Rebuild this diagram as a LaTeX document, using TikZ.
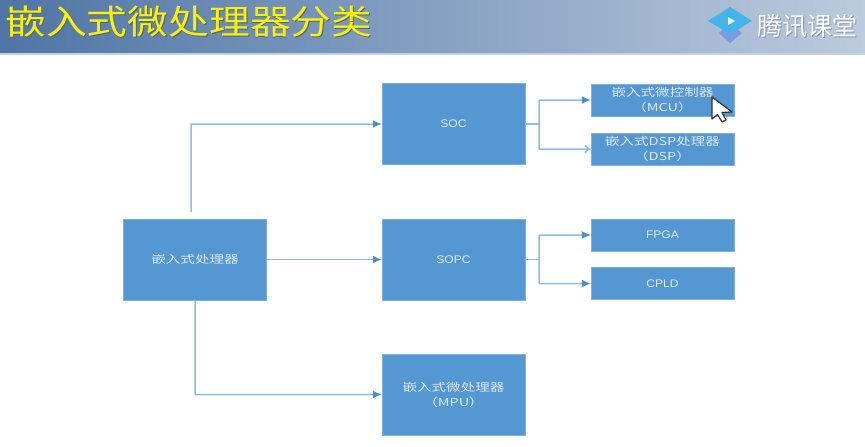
\documentclass[tikz,border=0pt]{standalone}
\usepackage{fontspec}
\usepackage{graphicx}
\usepackage{tikz}
\usetikzlibrary{arrows.meta}
\setmainfont{Liberation Sans}
\newfontfamily\cjk{Noto Sans CJK SC}
\newcommand{\widecjk}[1]{\scalebox{1.32}[1]{#1}}
\newcommand{\widelatin}[1]{\scalebox{1.1}[1]{\fontspec{Liberation Sans}#1}}
\newcommand{\widetitle}[1]{\scalebox{1.2}[1]{#1}}
\definecolor{boxblue}{HTML}{5597D3}
\definecolor{boxtext}{HTML}{DCEAF6}
\definecolor{lineblue}{HTML}{8DBBE3}
\definecolor{tipblue}{HTML}{4A90D0}
\definecolor{headleft}{HTML}{4F75A5}
\definecolor{headright}{HTML}{BCCBDE}
\definecolor{headline}{HTML}{C5D0E2}
\definecolor{titleshadow}{HTML}{4A6688}
\definecolor{logotop}{HTML}{45B4E8}
\definecolor{logobottom}{HTML}{7C9BE0}
\definecolor{logoshadow}{HTML}{8796AD}
\begin{document}
\begin{tikzpicture}[>=latex,x=1pt,y=-1pt,
  bigbox/.style={draw=boxblue!75!white,fill=boxblue,text=boxtext,minimum width=143pt,minimum height=81pt,inner sep=0pt,align=center,font=\cjk\fontsize{11}{15}\selectfont},
  smallbox/.style={bigbox,minimum height=32pt},
  conn/.style={draw=lineblue,line width=1.5pt,rounded corners=0.5pt},
  conntip/.style={conn,-{Latex[color=tipblue,length=9pt,width=8pt]}},
  opentip/.style={conn,-{To[color=lineblue,length=6pt,width=8pt]}},
  titletext/.style={font=\cjk\fontsize{34}{34}\selectfont,inner sep=0pt,anchor=west},
  logotext/.style={font=\cjk\fontsize{25}{25}\selectfont,inner sep=0pt,anchor=west}]

\useasboundingbox (0,0) rectangle (865,447);

% header
\fill[left color=headleft,right color=headright] (0,0) rectangle (865,53);
\fill[headline] (0,53) rectangle (865,55);
\node[titletext,text=titleshadow] (titleback) at (6,23) {\widetitle{嵌入式微处理器分类}};
\node[titletext,text=yellow] (title) at (5,22) {\widetitle{嵌入式微处理器分类}};

% logo
\fill[logobottom] (730,23) -- (742,33) -- (730,43) -- (719,33) -- cycle;
\fill[logotop] (730,7) -- (752,21) -- (730,34) -- (708,21) -- cycle;
\fill[white!90!cyan] (728,17) -- (735,21) -- (728,25) -- cycle;
\node[logotext,text=logoshadow] (logoback) at (757.8,26.8) {腾讯课堂};
\node[logotext,text=white] (logo) at (757,26) {腾讯课堂};

% left column
\node[bigbox] (cpu) at (195,259.5) {\widecjk{嵌入式处理器}};

% middle column
\node[bigbox] (soc) at (453.5,124) {\widelatin{SOC}};
\node[bigbox] (sopc) at (453.5,259.5) {\widelatin{SOPC}};
\node[bigbox] (mpu) at (453.5,394.5) {\widecjk{嵌入式微处理器}\\\widecjk{（MPU）}};

% right column
\node[smallbox] (mcu) at (662.5,100) {\widecjk{嵌入式微控制器}\\\widecjk{（MCU）}};
\node[smallbox] (dsp) at (662.5,149) {\widecjk{嵌入式DSP处理器}\\\widecjk{（DSP）}};
\node[smallbox] (fpga) at (662.5,235) {\widelatin{FPGA}};
\node[smallbox] (cpld) at (662.5,283.5) {\widelatin{CPLD}};

% cpu -> middle
\coordinate (cputop) at (191,212);
\draw[conntip] (cputop) |- (soc.west);
\draw[conntip] (cpu.east) -- (sopc.west);
\draw[conntip] (cpu.south) |- (mpu.west);

% soc -> right
\coordinate (socbranch) at (539,124);
\draw[conn] (soc.east) -- (socbranch);
\draw[conntip] (socbranch) |- (mcu.west);
\draw[opentip] (socbranch) |- (dsp.west);

% sopc -> right
\coordinate (sopcbranch) at (539,259.5);
\draw[conn] (sopc.east) -- (sopcbranch);
\draw[conntip] (sopcbranch) |- (fpga.west);
\draw[conntip] (sopcbranch) |- (cpld.west);

% mouse pointer
\draw[fill=white,draw=black!80,line width=1.2pt,line join=round] (712,97) -- (712,119) -- (717.5,114.5) -- (722,122) -- (726,120) -- (722,112.5) -- (732,112) -- cycle;

\end{tikzpicture}
\end{document}
